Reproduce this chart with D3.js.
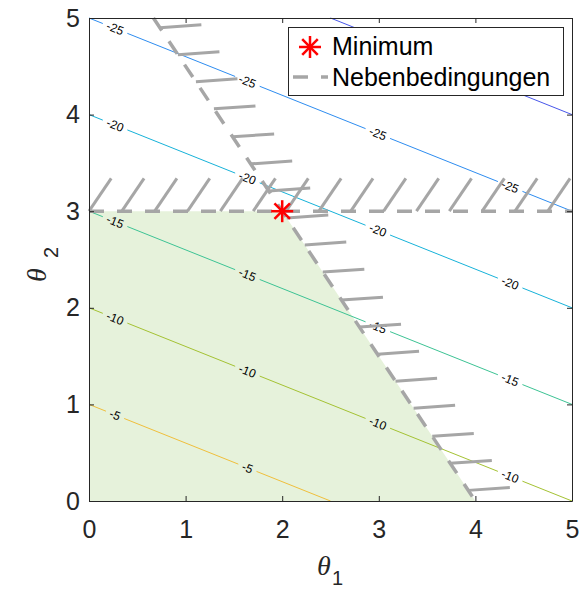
<!DOCTYPE html>
<html lang="de">
<head>
<meta charset="utf-8">
<title>Lineare Optimierung</title>
<style>
  body { margin: 0; background: #fff; }
  svg { display: block; font-family: "Liberation Sans", Arial, sans-serif; }
</style>
</head>
<body>
<script src="https://cdn.jsdelivr.net/npm/d3@7"></script>
<script>
// --- Daten ---
var ticks = [0, 1, 2, 3, 4, 5];
var levels = [-30, -25, -20, -15, -10, -5];
var levelColors = ["#4756ea", "#2d8cf0", "#16b2d9", "#3cc394", "#a4c232", "#f0bf3b"];
var lineStart = [[2.5, 5], [0, 5], [0, 4], [0, 3], [0, 2], [0, 1]];
var lineEnd = [[5, 4], [5, 3], [5, 2], [5, 1], [5, 0], [2.5, 0]];
var labelX = [0.27, 1.64, 2.99, 4.36];

var feasible = [[0, 0], [0, 3], [2, 3], [4, 0]];
var constraints = [[[0, 3], [5, 3]], [[0.667, 5], [4, 0]]];
var hatchBaseH = [0, 0.34, 0.68, 1.02, 1.36, 1.70, 2.04, 2.38, 2.71, 3.05, 3.39, 3.73, 4.07, 4.41, 4.75];
var hatchBaseS = [4.90, 4.62, 4.34, 4.06, 3.77, 3.49, 3.21, 2.93, 2.65, 2.37, 2.08, 1.80, 1.52, 1.24, 0.96, 0.67, 0.39, 0.11];
var hatchVecH = [0.23, 0.34];
var hatchVecS = [0.43, 0.03];
var minimum = [2, 3];

var W = 580, H = 590;
var gray = "#a6a6a6", axisColor = "#262626";

var x = d3.scaleLinear().domain([0, 5]).range([89, 572]);
var y = d3.scaleLinear().domain([0, 5]).range([501, 18]);

var svg = d3.select("body").append("svg")
    .attr("width", W)
    .attr("height", H);

var line = d3.line().x(function(d){ return x(d[0]); }).y(function(d){ return y(d[1]); });

// zulaessiger Bereich
svg.append("path")
    .attr("d", line(feasible) + "Z")
    .attr("fill", "#e6f2db");

// Hoehenlinien mit Beschriftung
var contours = svg.append("g");
levels.forEach(function(lv, i){
    var p0 = [x(lineStart[i][0]), y(lineStart[i][1])];
    var p1 = [x(lineEnd[i][0]), y(lineEnd[i][1])];
    var len = Math.hypot(p1[0] - p0[0], p1[1] - p0[1]);
    var ux = (p1[0] - p0[0]) / len, uy = (p1[1] - p0[1]) / len;
    var ang = Math.atan2(uy, ux) * 180 / Math.PI;
    var label = String(lv);
    var gaps = [];
    labelX.forEach(function(lx){
        var px = x(lx);
        if (px < p0[0] + 8 || px > p1[0] - 8) return;
        var t = (px - p0[0]) / ux;
        var half = label.length * 3.4 + 3;
        gaps.push([t - half, t + half]);
        contours.append("text")
            .attr("transform", "translate(" + (p0[0] + ux * t) + "," + (p0[1] + uy * t) + ") rotate(" + ang + ")")
            .attr("text-anchor", "middle")
            .attr("dy", "0.35em")
            .attr("font-size", 12)
            .attr("fill", "#000")
            .text(label);
    });
    var s = 0;
    gaps.concat([[len, len]]).forEach(function(g){
        if (g[0] > s) {
            contours.append("line")
                .attr("x1", p0[0] + ux * s).attr("y1", p0[1] + uy * s)
                .attr("x2", p0[0] + ux * g[0]).attr("y2", p0[1] + uy * g[0])
                .attr("stroke", levelColors[i])
                .attr("stroke-width", 1);
        }
        s = g[1];
    });
});

// Nebenbedingungen
svg.append("g").selectAll("path")
    .data(constraints)
    .enter()
    .append("path")
    .attr("d", line)
    .attr("fill", "none")
    .attr("stroke", gray)
    .attr("stroke-width", 3.5)
    .attr("stroke-dasharray", "15,13");

// Schraffur
var hatch = svg.append("g")
    .attr("stroke", gray)
    .attr("stroke-width", 3);
hatchBaseH.forEach(function(bx){
    hatch.append("line")
        .attr("x1", x(bx)).attr("y1", y(3))
        .attr("x2", x(bx + hatchVecH[0])).attr("y2", y(3 + hatchVecH[1]));
});
hatchBaseS.forEach(function(by){
    var bx = (12 - 2 * by) / 3;
    hatch.append("line")
        .attr("x1", x(bx)).attr("y1", y(by))
        .attr("x2", x(bx + hatchVecS[0])).attr("y2", y(by + hatchVecS[1]));
});

function star(g, cx, cy, r) {
    [0, 45, 90, 135].forEach(function(a){
        var dx = r * Math.cos(a * Math.PI / 180), dy = r * Math.sin(a * Math.PI / 180);
        g.append("line")
            .attr("x1", cx - dx).attr("y1", cy - dy)
            .attr("x2", cx + dx).attr("y2", cy + dy)
            .attr("stroke", "#ff0000")
            .attr("stroke-width", 2.5);
    });
}
star(svg.append("g"), x(minimum[0]), y(minimum[1]), 11);

// Achsen
function styleAxis(g) {
    g.selectAll("path, line").attr("stroke", axisColor);
    g.selectAll("text").attr("fill", axisColor).attr("font-size", 25);
}
var fmt = d3.format("d");
svg.append("g").attr("transform", "translate(0," + y(0) + ")")
    .call(d3.axisBottom(x).tickValues(ticks).tickFormat(fmt).tickSizeInner(-5).tickSizeOuter(0).tickPadding(19))
    .call(styleAxis);
svg.append("g").attr("transform", "translate(" + x(0) + ",0)")
    .call(d3.axisLeft(y).tickValues(ticks).tickFormat(fmt).tickSizeInner(-5).tickSizeOuter(0).tickPadding(9))
    .call(styleAxis);
svg.append("g").attr("transform", "translate(0," + y(5) + ")")
    .call(d3.axisTop(x).tickValues(ticks).tickSizeInner(-5).tickSizeOuter(0).tickFormat(""))
    .call(styleAxis);
svg.append("g").attr("transform", "translate(" + x(5) + ",0)")
    .call(d3.axisRight(y).tickValues(ticks).tickSizeInner(-5).tickSizeOuter(0).tickFormat(""))
    .call(styleAxis);

// Achsenbeschriftung
var xl = svg.append("text").attr("fill", axisColor);
xl.append("tspan")
    .attr("x", 317).attr("y", 575)
    .attr("font-family", "'Liberation Serif', serif").attr("font-style", "italic").attr("font-size", 28)
    .text("θ");
xl.append("tspan")
    .attr("x", 332).attr("y", 585)
    .attr("font-size", 20)
    .text("1");

var yl = svg.append("text").attr("fill", axisColor)
    .attr("transform", "translate(46,282) rotate(-90)");
yl.append("tspan")
    .attr("x", 0).attr("y", 0)
    .attr("font-family", "'Liberation Serif', serif").attr("font-style", "italic").attr("font-size", 28)
    .text("θ");
yl.append("tspan")
    .attr("x", 24).attr("y", 12)
    .attr("font-size", 20)
    .text("2");

// Legende
var legend = svg.append("g");
legend.append("rect")
    .attr("x", 288.5).attr("y", 27.5)
    .attr("width", 275).attr("height", 68)
    .attr("fill", "#fff")
    .attr("stroke", axisColor)
    .attr("stroke-width", 1);
star(legend, 310, 47, 11);
legend.append("text")
    .attr("x", 332).attr("y", 55)
    .attr("font-size", 25)
    .attr("fill", "#000")
    .text("Minimum");
legend.append("line")
    .attr("x1", 293).attr("y1", 77)
    .attr("x2", 328).attr("y2", 77)
    .attr("stroke", gray)
    .attr("stroke-width", 3.5)
    .attr("stroke-dasharray", "15,13");
legend.append("text")
    .attr("x", 332).attr("y", 86)
    .attr("font-size", 25)
    .attr("fill", "#000")
    .text("Nebenbedingungen");
</script>
</body>
</html>
